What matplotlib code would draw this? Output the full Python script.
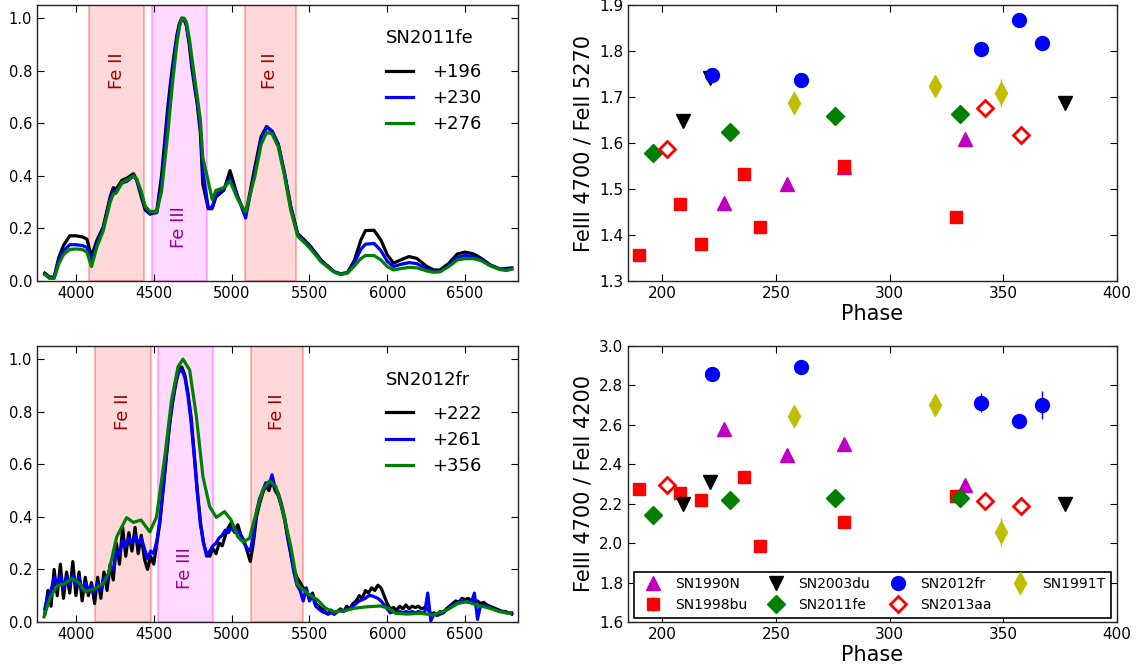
import numpy as np
import matplotlib
matplotlib.use("Agg")
import matplotlib.pyplot as plt

# ---------------- SN2011fe spectra ----------------
wave_11fe = [3800, 3830, 3860, 3890, 3920, 3960, 4000, 4040, 4070, 4100, 4135, 4175, 4220, 4240,
             4260, 4295, 4330, 4370, 4390, 4420, 4445, 4475, 4520, 4550, 4590, 4605, 4620, 4635, 4650,
             4665, 4680, 4695, 4710, 4728, 4745, 4762, 4780, 4800, 4815, 4850, 4875, 4900, 4950, 4990,
             5040, 5090, 5150, 5190, 5225, 5260, 5300, 5340, 5380, 5425, 5470, 5510, 5575, 5660, 5700,
             5745, 5790, 5830, 5860, 5915, 5960, 6000, 6040, 6085, 6140, 6190, 6255, 6300, 6340, 6395,
             6450, 6500, 6555, 6605, 6660, 6725, 6765, 6800]
flux_11fe_196 = [0.03, 0.015, 0.015, 0.09, 0.135, 0.172, 0.172, 0.168, 0.16, 0.093, 0.155, 0.205, 0.32, 0.355,
                 0.35, 0.383, 0.392, 0.408, 0.385, 0.32, 0.27, 0.255, 0.268, 0.40, 0.66, 0.74, 0.815, 0.88, 0.94,
                 0.98, 1.0, 0.995, 0.97, 0.90, 0.81, 0.74, 0.67, 0.56, 0.37, 0.275, 0.275, 0.32, 0.345, 0.42,
                 0.32, 0.25, 0.435, 0.55, 0.588, 0.57, 0.52, 0.41, 0.285, 0.18, 0.155, 0.13, 0.08, 0.035, 0.025,
                 0.032, 0.08, 0.155, 0.192, 0.193, 0.155, 0.10, 0.068, 0.08, 0.093, 0.086, 0.055, 0.042, 0.042, 0.067,
                 0.103, 0.11, 0.103, 0.086, 0.062, 0.045, 0.048, 0.05]
flux_11fe_230 = [0.025, 0.012, 0.012, 0.08, 0.115, 0.138, 0.138, 0.135, 0.128, 0.075, 0.14, 0.20, 0.31, 0.34,
                 0.34, 0.372, 0.38, 0.40, 0.385, 0.33, 0.28, 0.255, 0.26, 0.37, 0.63, 0.71, 0.79, 0.865, 0.93,
                 0.975, 0.995, 0.995, 0.975, 0.91, 0.83, 0.755, 0.68, 0.58, 0.42, 0.28, 0.28, 0.33, 0.35, 0.39,
                 0.32, 0.24, 0.42, 0.54, 0.585, 0.57, 0.52, 0.41, 0.28, 0.175, 0.15, 0.125, 0.075, 0.035, 0.028,
                 0.032, 0.07, 0.12, 0.14, 0.143, 0.115, 0.075, 0.055, 0.063, 0.07, 0.066, 0.045, 0.038, 0.038, 0.06,
                 0.09, 0.097, 0.093, 0.08, 0.06, 0.045, 0.045, 0.047]
flux_11fe_276 = [0.025, 0.01, 0.01, 0.065, 0.10, 0.12, 0.122, 0.12, 0.11, 0.055, 0.13, 0.19, 0.30, 0.33,
                 0.335, 0.375, 0.385, 0.40, 0.39, 0.34, 0.285, 0.265, 0.265, 0.34, 0.56, 0.655, 0.75, 0.83, 0.91,
                 0.965, 1.0, 1.0, 0.985, 0.925, 0.85, 0.775, 0.70, 0.61, 0.47, 0.38, 0.31, 0.345, 0.355, 0.38,
                 0.31, 0.262, 0.40, 0.52, 0.565, 0.56, 0.51, 0.40, 0.27, 0.17, 0.145, 0.12, 0.073, 0.033, 0.025,
                 0.03, 0.058, 0.085, 0.097, 0.097, 0.08, 0.055, 0.042, 0.047, 0.052, 0.05, 0.038, 0.033, 0.035, 0.055,
                 0.08, 0.085, 0.085, 0.077, 0.058, 0.043, 0.04, 0.045]

# ---------------- SN2012fr spectra ----------------
wave_12fr = list(range(3800, 6801, 20))
flux_12fr_222 = [0.03, 0.12, 0.06, 0.20, 0.10, 0.22, 0.09, 0.19, 0.11, 0.23,
                 0.10, 0.19, 0.08, 0.17, 0.10, 0.15, 0.07, 0.17, 0.09, 0.19,
                 0.12, 0.22, 0.16, 0.30, 0.22, 0.36, 0.25, 0.34, 0.27, 0.36,
                 0.26, 0.33, 0.24, 0.20, 0.25, 0.22, 0.30, 0.38, 0.50, 0.62,
                 0.74, 0.83, 0.90, 0.96, 0.97, 0.94, 0.87, 0.78, 0.64, 0.50,
                 0.38, 0.30, 0.26, 0.25, 0.28, 0.26, 0.30, 0.29, 0.33, 0.36,
                 0.38, 0.35, 0.37, 0.33, 0.31, 0.27, 0.23, 0.30, 0.40, 0.45,
                 0.49, 0.52, 0.50, 0.54, 0.50, 0.48, 0.44, 0.39, 0.32, 0.26,
                 0.20, 0.17, 0.15, 0.13, 0.12, 0.09, 0.11, 0.07, 0.06, 0.05,
                 0.04, 0.03, 0.045, 0.03, 0.04, 0.05, 0.04, 0.06, 0.05, 0.07,
                 0.08, 0.10, 0.09, 0.12, 0.11, 0.13, 0.12, 0.14, 0.13, 0.10,
                 0.07, 0.05, 0.055, 0.045, 0.06, 0.05, 0.065, 0.05, 0.06, 0.055,
                 0.06, 0.05, 0.055, 0.05, 0.03, 0.035, 0.025, 0.04, 0.035, 0.05,
                 0.06, 0.07, 0.08, 0.075, 0.09, 0.085, 0.09, 0.08, 0.075, 0.08,
                 0.07, 0.075, 0.065, 0.06, 0.055, 0.05, 0.045, 0.04, 0.04, 0.035,
                 0.03]
flux_12fr_261 = [0.05, 0.10, 0.12, 0.17, 0.14, 0.18, 0.13, 0.17, 0.14, 0.18,
                 0.14, 0.17, 0.12, 0.15, 0.12, 0.14, 0.11, 0.15, 0.12, 0.17,
                 0.16, 0.21, 0.20, 0.27, 0.26, 0.31, 0.29, 0.32, 0.30, 0.33,
                 0.30, 0.32, 0.28, 0.24, 0.27, 0.26, 0.31, 0.39, 0.51, 0.63,
                 0.75, 0.84, 0.91, 0.95, 0.96, 0.93, 0.86, 0.76, 0.63, 0.49,
                 0.37, 0.30, 0.25, 0.27, 0.29, 0.30, 0.32, 0.33, 0.35, 0.34,
                 0.36, 0.34, 0.35, 0.33, 0.30, 0.28, 0.27, 0.33, 0.42, 0.47,
                 0.50, 0.53, 0.52, 0.56, 0.51, 0.49, 0.45, 0.40, 0.33, 0.26,
                 0.19, 0.14, 0.12, 0.08, 0.13, 0.08, 0.10, 0.06, 0.05, 0.04,
                 0.035, 0.03, 0.035, 0.03, 0.04, 0.045, 0.04, 0.05, 0.05, 0.06,
                 0.07, 0.08, 0.085, 0.09, 0.10, 0.10, 0.095, 0.09, 0.08, 0.065,
                 0.05, 0.035, 0.04, 0.035, 0.04, 0.035, 0.04, 0.035, 0.04, 0.035,
                 0.04, 0.035, 0.035, 0.11, 0.005, 0.03, 0.025, 0.03, 0.035, 0.045,
                 0.055, 0.065, 0.07, 0.075, 0.08, 0.08, 0.075, 0.075, 0.11, 0.01,
                 0.065, 0.065, 0.06, 0.055, 0.05, 0.045, 0.04, 0.04, 0.035, 0.035,
                 0.035]
wave_12fr_356 = [3795, 3836, 3879, 3932, 3974, 4017, 4060, 4124, 4177, 4209, 4262, 4326, 4369, 4418,
                 4475, 4518, 4571, 4614, 4656, 4688, 4731, 4774, 4816, 4859, 4902, 4955, 4997, 5040,
                 5072, 5115, 5157, 5200, 5243, 5285, 5328, 5381, 5424, 5488, 5552, 5605, 5658, 5722,
                 5786, 5871, 5957, 6010, 6052, 6127, 6212, 6297, 6383, 6457, 6511, 6575, 6660, 6724, 6790]
flux_12fr_356 = [0.02, 0.096, 0.137, 0.147, 0.166, 0.15, 0.115, 0.128, 0.147, 0.185, 0.324, 0.397, 0.379, 0.388,
                 0.343, 0.40, 0.629, 0.844, 0.971, 1.0, 0.958, 0.781, 0.553, 0.439, 0.398, 0.42, 0.388, 0.324,
                 0.305, 0.318, 0.413, 0.502, 0.537, 0.515, 0.426, 0.286, 0.141, 0.109, 0.084, 0.052, 0.039, 0.042,
                 0.052, 0.058, 0.061, 0.052, 0.033, 0.03, 0.033, 0.027, 0.046, 0.071, 0.077, 0.065, 0.052, 0.039, 0.033]

# ---------------- line ratios ----------------
phase_1990N = [227, 255, 280, 333]
r5270_1990N = [1.469, 1.511, 1.548, 1.609]
r4200_1990N = [2.578, 2.446, 2.502, 2.294]

phase_1998bu = [190, 208, 217, 236, 243, 280, 329]
r5270_1998bu = [1.357, 1.467, 1.381, 1.532, 1.418, 1.550, 1.439]
r4200_1998bu = [2.274, 2.252, 2.220, 2.334, 1.988, 2.106, 2.238]

phase_2003du = [209, 221, 377]
r5270_2003du = [1.648, 1.741, 1.687]
r4200_2003du = [2.198, 2.311, 2.198]

phase_2011fe = [196, 230, 276, 331]
r5270_2011fe = [1.579, 1.624, 1.658, 1.664]
r4200_2011fe = [2.145, 2.220, 2.231, 2.231]

phase_2012fr = [222, 261, 340, 357, 367]
r5270_2012fr = [1.748, 1.738, 1.804, 1.867, 1.817]
r4200_2012fr = [2.858, 2.892, 2.713, 2.620, 2.701]
e5270_2012fr = [0.005, 0.005, 0.015, 0.008, 0.015]
e4200_2012fr = [0.01, 0.01, 0.05, 0.02, 0.07]

phase_2013aa = [202, 342, 358]
r5270_2013aa = [1.587, 1.677, 1.618]
r4200_2013aa = [2.296, 2.213, 2.189]

phase_1991T = [258, 320, 349]
r5270_1991T = [1.688, 1.723, 1.709]
r4200_1991T = [2.645, 2.699, 2.057]
e5270_1991T = [0.02, 0.012, 0.03]
e4200_1991T = [0.04, 0.05, 0.07]

# ---------------- figure ----------------
plt.rcParams['font.family'] = ['DejaVu Sans']
fig = plt.figure(figsize=(11.36, 6.71), dpi=100)

W, H = 1136.0, 671.0
def pos(x0, y0, x1, y1):
    return [x0 / W, 1 - y1 / H, (x1 - x0) / W, (y1 - y0) / H]

ax1 = fig.add_axes(pos(37, 5, 518, 281))
ax2 = fig.add_axes(pos(37, 346, 518, 622))
ax3 = fig.add_axes(pos(628, 5, 1117, 281))
ax4 = fig.add_axes(pos(628, 346, 1117, 622))

def style(ax, fs=11):
    ax.tick_params(direction='in', top=True, right=True, labelsize=fs, length=5, width=0.8)
    for s in ax.spines.values():
        s.set_linewidth(1.0)
        s.set_color('#222222')

febands_11fe = [(4085, 4440, 'Fe II'), (4490, 4840, 'Fe III'), (5085, 5415, 'Fe II')]
febands_12fr = [(4120, 4480, 'Fe II'), (4525, 4880, 'Fe III'), (5125, 5460, 'Fe II')]

def spec_panel(ax, bands, series, title, title_y, leg_y):
    for lo, hi, lab in bands:
        if lab == 'Fe II':
            ax.axvspan(lo, hi, facecolor=(1, 0, 0, 0.15), edgecolor=(1, 0, 0, 0.28), lw=1.5, zorder=0)
            ax.text((lo + hi) / 2, 0.80, lab, rotation=90, ha='center', va='center',
                    color='#a00000', fontsize=13)
        else:
            ax.axvspan(lo, hi, facecolor=(1, 0, 1, 0.15), edgecolor=(1, 0, 1, 0.28), lw=1.5, zorder=0)
            ax.text((lo + hi) / 2, 0.205, lab, rotation=90, ha='center', va='center',
                    color='#990099', fontsize=13)
    for w, f, c, lab in series:
        ax.plot(w, f, color=c, lw=2.3, label=lab)
    ax.set_xlim(3750, 6840)
    ax.set_ylim(0, 1.05)
    ax.set_xticks([4000, 4500, 5000, 5500, 6000, 6500])
    ax.set_yticks([0.0, 0.2, 0.4, 0.6, 0.8, 1.0])
    ax.text(0.7256, title_y, title, transform=ax.transAxes, ha='left', va='center', fontsize=13)
    ax.legend(loc='upper left', frameon=False, fontsize=13, bbox_to_anchor=(0.7256, leg_y),
              borderpad=0, borderaxespad=0, handlelength=1.5, handletextpad=1.05,
              labelspacing=0.45)
    style(ax, 10.5)

spec_panel(ax1, febands_11fe,
           [(wave_11fe, flux_11fe_196, 'black', '+196'),
            (wave_11fe, flux_11fe_230, 'blue', '+230'),
            (wave_11fe, flux_11fe_276, '#008000', '+276')], 'SN2011fe', 0.880, 0.790)
spec_panel(ax2, febands_12fr,
           [(wave_12fr, flux_12fr_222, 'black', '+222'),
            (wave_12fr, flux_12fr_261, 'blue', '+261'),
            (wave_12fr_356, flux_12fr_356, '#008000', '+356')], 'SN2012fr', 0.877, 0.787)

def zeros(n):
    return [0.0] * n

ratio_sets = [
    ("SN1990N", phase_1990N, r5270_1990N, r4200_1990N, None, None,
     dict(marker='^', ms=10, color='#bf00bf', mec='#bf00bf')),
    ("SN1998bu", phase_1998bu, r5270_1998bu, r4200_1998bu, None, None,
     dict(marker='s', ms=9, color='red', mec='red')),
    ("SN2003du", phase_2003du, r5270_2003du, r4200_2003du, None, None,
     dict(marker='v', ms=10, color='black', mec='black')),
    ("SN2011fe", phase_2011fe, r5270_2011fe, r4200_2011fe, None, None,
     dict(marker='D', ms=9, color='#008000', mec='#008000')),
    ("SN2012fr", phase_2012fr, r5270_2012fr, r4200_2012fr, e5270_2012fr, e4200_2012fr,
     dict(marker='o', ms=10, color='blue', mec='blue')),
    ("SN2013aa", phase_2013aa, r5270_2013aa, r4200_2013aa, None, None,
     dict(marker='D', ms=8, color='red', mfc='white', mec='red', mew=2)),
    ("SN1991T", phase_1991T, r5270_1991T, r4200_1991T, e5270_1991T, e4200_1991T,
     dict(marker='d', ms=11, color='#bfbf00', mec='#bfbf00')),
]

for name, ph, r1, r2, e1, e2, kw in ratio_sets:
    ax3.errorbar(ph, r1, yerr=e1 if e1 is not None else zeros(len(ph)), ls='none',
                 elinewidth=1, capsize=0, label=name, **kw)
    ax4.errorbar(ph, r2, yerr=e2 if e2 is not None else zeros(len(ph)), ls='none',
                 elinewidth=1, capsize=0, label=name, **kw)

ax3.set_xlim(185, 400)
ax3.set_ylim(1.3, 1.9)
ax3.set_xticks([200, 250, 300, 350, 400])
ax3.set_ylabel('FeIII 4700 / FeII 5270', fontsize=15)
ax3.set_xlabel('Phase', fontsize=15, labelpad=2)
style(ax3, 11)

ax4.set_xlim(185, 400)
ax4.set_ylim(1.6, 3.0)
ax4.set_xticks([200, 250, 300, 350, 400])
ax4.set_yticks([1.6, 1.8, 2.0, 2.2, 2.4, 2.6, 2.8, 3.0])
ax4.set_ylabel('FeIII 4700 / FeII 4200', fontsize=15)
ax4.set_xlabel('Phase', fontsize=15, labelpad=2)
style(ax4, 11)

leg = ax4.legend(loc='lower left', bbox_to_anchor=(0.012, 0.015, 0.976, 0.2), mode='expand',
                 ncol=4, fontsize=10, numpoints=1, borderaxespad=0, handletextpad=0.6,
                 fancybox=False, edgecolor='black', framealpha=1)
leg.get_frame().set_linewidth(1.2)

fig.savefig('out.png', dpi=100)
